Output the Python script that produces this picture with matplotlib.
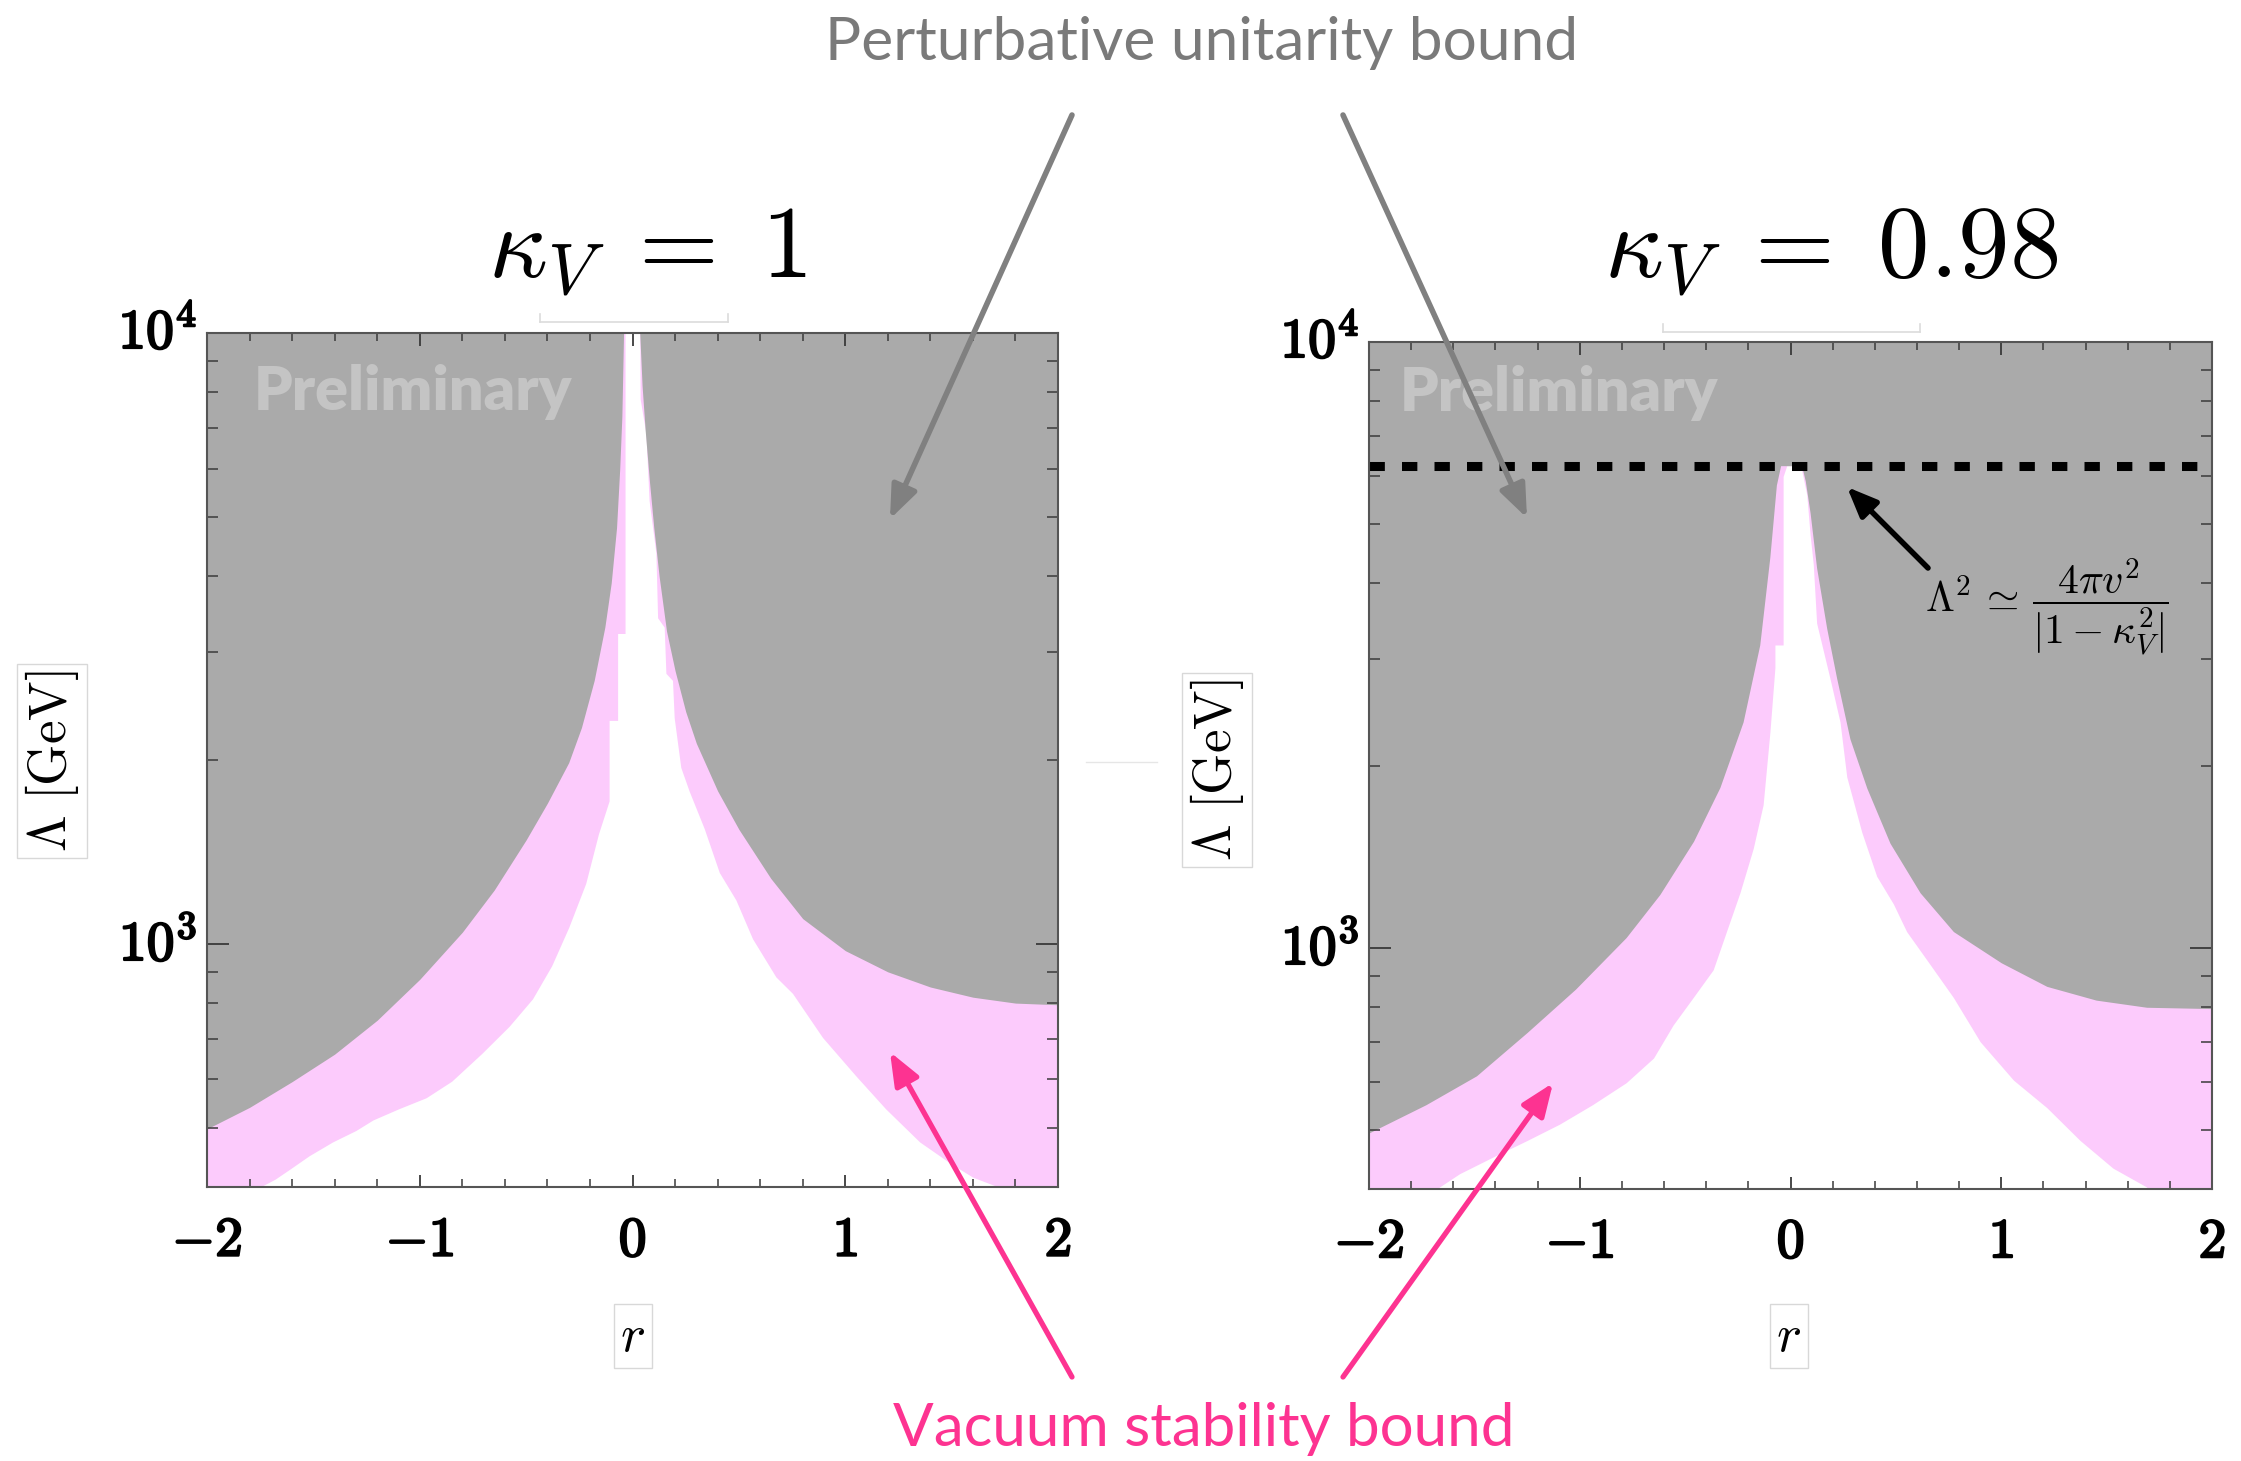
import matplotlib
matplotlib.use("Agg")
import matplotlib.pyplot as plt
import matplotlib.patheffects as pe
from matplotlib.ticker import FixedLocator, NullFormatter, MultipleLocator
from matplotlib.patches import FancyArrowPatch
from matplotlib.lines import Line2D

plt.rcParams['mathtext.fontset'] = 'cm'
plt.rcParams['font.family'] = ['DejaVu Sans']

W, H, DPI = 2241, 1461, 100

# ---------------- data ----------------
panel_titles = [r'$\kappa_V\;=\;1$', r'$\kappa_V\;=\;0.98$']

# kappa_V = 1 : lower edge of the perturbative-unitarity excluded region (two branches)
unit1_left_r = [-2.0, -1.8, -1.6, -1.4, -1.2, -1.0, -0.8, -0.65, -0.5, -0.4, -0.3,
                -0.24, -0.18, -0.13, -0.1, -0.075, -0.06, -0.05, -0.042]
unit1_left_lam = [498, 540, 595, 660, 750, 875, 1045, 1225, 1480, 1700, 1980,
                  2260, 2700, 3300, 3900, 4800, 6000, 7300, 10000]
unit1_right_r = [0.034, 0.045, 0.06, 0.08, 0.1, 0.125, 0.16, 0.2, 0.25, 0.3, 0.4,
                 0.5, 0.65, 0.8, 1.0, 1.2, 1.4, 1.6, 1.8, 2.0]
unit1_right_lam = [10000, 8200, 6900, 5700, 4800, 4000, 3250, 2800, 2400, 2130, 1780,
                   1540, 1280, 1100, 975, 900, 850, 818, 800, 795]

# kappa_V = 1 : upper edge of the vacuum-stable (allowed) region
vac1_r = [-1.75, -1.68, -1.61, -1.52, -1.41, -1.30, -1.22, -1.10, -0.97, -0.85, -0.71,
          -0.58, -0.47, -0.38, -0.30, -0.22, -0.16, -0.11, -0.11, -0.07, -0.07, -0.035,
          -0.035, 0.034, 0.036, 0.063, 0.078, 0.11, 0.118, 0.149, 0.157, 0.188, 0.196,
          0.227, 0.266, 0.337, 0.408, 0.486, 0.564, 0.674, 0.752, 0.893, 1.05, 1.19,
          1.35, 1.50, 1.60, 1.72]
vac1_lam = [400, 412, 428, 450, 474, 495, 515, 537, 560, 596, 661,
            733, 813, 921, 1064, 1256, 1514, 1714, 2322, 2322, 3222, 3222,
            10000, 10000, 7800, 6850, 5320, 4363, 3419, 3300, 2773, 2700, 2345,
            1945, 1780, 1545, 1309, 1180, 1020, 883, 830, 703, 608, 537,
            474, 436, 415, 400]

# kappa_V = 0.98 : lower edge of the perturbative-unitarity excluded region
unit2_r = [-2.0, -1.73, -1.49, -1.25, -1.02, -0.78, -0.62, -0.46, -0.335, -0.225,
           -0.146, -0.098, -0.067, -0.047, 0.053, 0.07, 0.093, 0.124, 0.172, 0.219,
           0.282, 0.362, 0.472, 0.615, 0.773, 1.0, 1.216, 1.45, 1.69, 2.0]
unit2_lam = [495, 551, 615, 725, 855, 1040, 1225, 1500, 1840, 2360,
             3162, 4418, 5808, 6250, 6250, 5900, 5224, 4236, 3365, 2787,
             2213, 1836, 1489, 1233, 1064, 945, 864, 820, 798, 794]

# kappa_V = 0.98 : upper edge of the vacuum-stable (allowed) region
vac2_r = [-1.68, -1.57, -1.41, -1.25, -1.095, -0.94, -0.78, -0.65, -0.557, -0.462,
          -0.367, -0.304, -0.24, -0.177, -0.13, -0.098, -0.074, -0.074, -0.035, -0.035,
          -0.018, 0.045, 0.053, 0.077, 0.093, 0.108, 0.124, 0.187, 0.235, 0.267,
          0.338, 0.409, 0.488, 0.551, 0.662, 0.773, 0.9, 1.058, 1.216, 1.374, 1.53, 1.69]
vac2_lam = [400, 424, 452, 481, 512, 551, 599, 658, 746, 828,
            920, 1064, 1233, 1459, 1722, 2265, 2900, 3162, 3162, 6000,
            6250, 6250, 6150, 5600, 4808, 4300, 3436, 2787, 2360, 1915,
            1553, 1313, 1182, 1064, 939, 828, 700, 605, 545, 481, 433, 403]

# approximate cutoff Lambda^2 ~ 4 pi v^2 / |1 - kappa_V^2| for kappa_V = 0.98
lambda_cut_098 = 6250

r_range = (-2, 2)
lam_range = (400, 10000)
x_ticks = [-2, -1, 0, 1, 2]
x_tick_labels = [r'$\mathbf{-2}$', r'$\mathbf{-1}$', r'$\mathbf{0}$', r'$\mathbf{1}$', r'$\mathbf{2}$']
y_ticks = [1e3, 1e4]
y_tick_labels = [r'$\mathbf{10^{3}}$', r'$\mathbf{10^{4}}$']
y_minor_ticks = [500, 600, 700, 800, 900, 2000, 3000, 4000, 5000, 6000, 7000, 8000, 9000]

GRAY = '#aaaaaa'
PINK = '#fccbfc'
HOTPINK = '#fd3391'
CAPTION_GRAY = '#7a7a7a'

# ---------------- figure ----------------
fig = plt.figure(figsize=(W / DPI, H / DPI), dpi=DPI)
fig.patch.set_facecolor('white')


def fx(px):
    return px / W


def fy(py):
    return 1 - py / H


ax1 = fig.add_axes([fx(207), fy(1187), (1058 - 207) / W, (1187 - 333) / H])
ax2 = fig.add_axes([fx(1369), fy(1189), (2212 - 1369) / W, (1189 - 342) / H])

bold_fx = [pe.withStroke(linewidth=1.6, foreground='black')]


def style_axes(ax):
    ax.set_yscale('log')
    ax.set_xlim(*r_range)
    ax.set_ylim(*lam_range)
    ax.set_facecolor(PINK)
    ax.set_axisbelow(False)
    ax.xaxis.set_major_locator(FixedLocator(x_ticks))
    ax.xaxis.set_minor_locator(MultipleLocator(0.2))
    ax.yaxis.set_major_locator(FixedLocator(y_ticks))
    ax.yaxis.set_minor_locator(FixedLocator(y_minor_ticks))
    ax.yaxis.set_minor_formatter(NullFormatter())
    ax.tick_params(which='both', direction='in', top=True, right=True, color='#3a3a3a',
                   labelbottom=False, labelleft=False)
    ax.tick_params(axis='y', which='major', length=16, width=1.3)
    ax.tick_params(axis='y', which='minor', length=8, width=1.1)
    ax.tick_params(axis='x', which='major', length=9, width=1.3)
    ax.tick_params(axis='x', which='minor', length=6, width=1.1)
    for s in ax.spines.values():
        s.set_color('#555555')
        s.set_linewidth(1.5)
        s.set_zorder(5)
    # bold tick labels placed along the axes
    xt = ax.get_xaxis_transform()
    for v, s in zip(x_ticks, x_tick_labels):
        ax.text(v, -0.063, s, transform=xt, ha='center', va='center', fontsize=40,
                path_effects=bold_fx, clip_on=False)
    yt = ax.get_yaxis_transform()
    for v, s in zip(y_ticks, y_tick_labels):
        ax.text(-0.012, v, s, transform=yt, ha='right', va='center', fontsize=40,
                path_effects=bold_fx, clip_on=False)


for ax in (ax1, ax2):
    style_axes(ax)

# allowed (vacuum-stable) regions
ax1.fill_between(vac1_r, lam_range[0], vac1_lam, color='white', lw=0, zorder=1)
ax2.fill_between(vac2_r, lam_range[0], vac2_lam, color='white', lw=0, zorder=1)

# unitarity-excluded regions
ax1.fill_between(unit1_left_r, unit1_left_lam, lam_range[1], color=GRAY, lw=0, zorder=2)
ax1.fill_between(unit1_right_r, unit1_right_lam, lam_range[1], color=GRAY, lw=0, zorder=2)
ax2.fill_between(unit2_r, unit2_lam, lam_range[1], color=GRAY, lw=0, zorder=2)

# cutoff line for kappa_V = 0.98
ax2.axhline(lambda_cut_098, color='black', lw=6.5, linestyle=(0, (1.7, 1.9)),
            dash_capstyle='butt', zorder=4)

# panel titles
fig.text(fx(648), fy(277), panel_titles[0], ha='center', va='baseline', fontsize=74)
fig.text(fx(1831), fy(277), panel_titles[1], ha='center', va='baseline', fontsize=74)

# faint frame remnants under the titles and between panels
for (xa, xb, yy) in [(540, 728, 322), (1663, 1920, 332)]:
    fig.add_artist(Line2D([fx(xa), fx(xb)], [fy(yy), fy(yy)], color='#dcdcdc', lw=1.2,
                          transform=fig.transFigure))
    for xe in (xa, xb):
        fig.add_artist(Line2D([fx(xe), fx(xe)], [fy(yy - 8), fy(yy)], color='#dcdcdc',
                              lw=1.2, transform=fig.transFigure))
fig.add_artist(Line2D([fx(1086), fx(1157)], [fy(762), fy(762)], color='#e6e6e6', lw=1.0,
                      transform=fig.transFigure))

# axis labels in light boxes
label_box = dict(boxstyle='square,pad=0.12', fc='white', ec='#d8d8d8', lw=1.0)
fig.text(fx(52), fy(761), r'$\Lambda\ [\mathrm{GeV}]$', rotation=90, ha='center',
         va='center', fontsize=38, bbox=label_box)
fig.text(fx(1217), fy(770), r'$\Lambda\ [\mathrm{GeV}]$', rotation=90, ha='center',
         va='center', fontsize=38, bbox=label_box)
fig.text(fx(633), fy(1336), r'$r$', ha='center', va='center', fontsize=38, bbox=label_box)
fig.text(fx(1789), fy(1336), r'$r$', ha='center', va='center', fontsize=38, bbox=label_box)

# watermark
wm_kw = dict(fontsize=36, fontweight='heavy', color='#c4c4c4', ha='left', va='baseline',
             family=['Lato', 'DejaVu Sans'], zorder=3)
wm1 = fig.text(fx(254), fy(410), 'Preliminary', **wm_kw)
wm2 = fig.text(fx(1400), fy(411), 'Preliminary', **wm_kw)

# formula
fig.text(fx(2047), fy(607), r'$\Lambda^2\,\simeq\,\dfrac{4\pi v^2}{|1-\kappa_V^2|}$',
         ha='center', va='center', fontsize=30)

# captions
cap_top = fig.text(fx(1202), fy(60), 'Perturbative unitarity bound', ha='center',
                   va='baseline', fontsize=46, color=CAPTION_GRAY,
                   family=['Lato', 'DejaVu Sans'])
cap_bot = fig.text(fx(1204), fy(1446), 'Vacuum stability bound', ha='center',
                   va='baseline', fontsize=46, color=HOTPINK,
                   family=['Lato', 'DejaVu Sans'])


def fit_width(txt, target_px):
    renderer = fig.canvas.get_renderer()
    w = txt.get_window_extent(renderer).width
    txt.set_fontsize(txt.get_fontsize() * target_px / w)


fig.canvas.draw()
fit_width(cap_top, 753)
fit_width(cap_bot, 622)
fit_width(wm1, 318)
fit_width(wm2, 318)


def arrow(p0, p1, color, lw, hl, hw):
    a = FancyArrowPatch((fx(p0[0]), fy(p0[1])), (fx(p1[0]), fy(p1[1])),
                        transform=fig.transFigure,
                        arrowstyle=f'-|>,head_length={hl},head_width={hw}',
                        mutation_scale=1, color=color, lw=lw, shrinkA=0, shrinkB=0,
                        zorder=10)
    fig.add_artist(a)


arrow((1072, 115), (890, 519), '#808080', 4, 20, 8)
arrow((1343, 115), (1527, 518), '#808080', 4, 20, 8)
arrow((1072, 1377), (890, 1052), HOTPINK, 3.8, 20, 8)
arrow((1343, 1377), (1553, 1083), HOTPINK, 3.8, 20, 8)
arrow((1928, 568), (1847, 487), 'black', 4, 18, 7.5)

fig.savefig('out.png', dpi=DPI)
